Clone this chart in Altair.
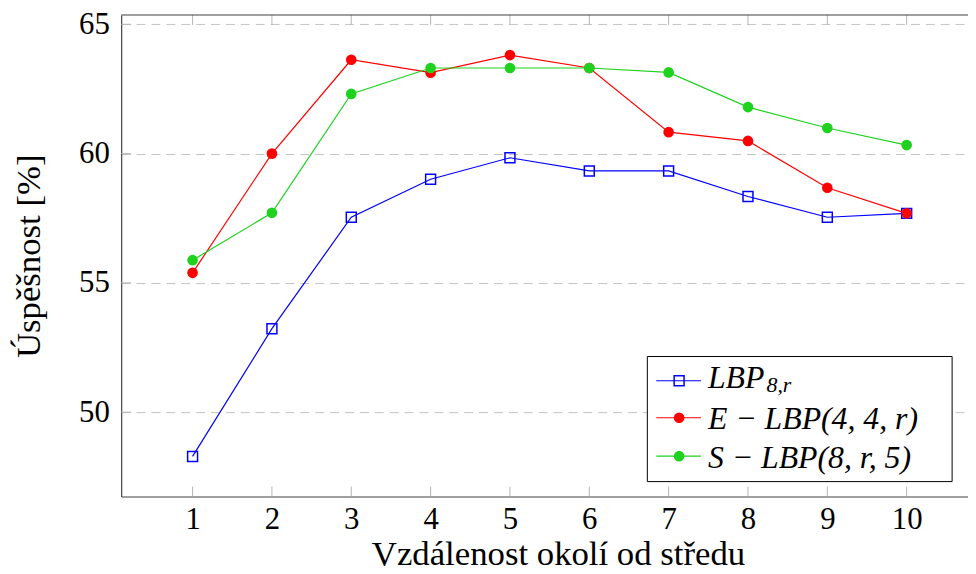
import altair as alt
import pandas as pd

# ---- data ----
x_vals = [1, 2, 3, 4, 5, 6, 7, 8, 9, 10]
lbp = [48.29, 53.23, 57.54, 59.01, 59.84, 59.33, 59.33, 58.34, 57.54, 57.69]
elbp = [55.39, 60.00, 63.63, 63.13, 63.81, 63.31, 60.83, 60.49, 58.68, 57.69]
slbp = [55.88, 57.71, 62.31, 63.31, 63.31, 63.31, 63.14, 61.80, 60.99, 60.33]
series_keys = ["LBP_8,r", "E-LBP(4,4,r)", "S-LBP(8,r,5)"]
legend_main = ["LBP", "E − LBP(4, 4, r)", "S − LBP(8, r, 5)"]
legend_sub = ["8,r", "", ""]
colors = ["#0000ff", "#ff0000", "#1ed21e"]
shapes = ["square", "circle", "circle"]
filled = [False, True, True]
x_ticks = [1, 2, 3, 4, 5, 6, 7, 8, 9, 10]
y_ticks = [50, 55, 60, 65]
x_domain = [0.1, 10.773]
y_domain = [46.74, 65.36]
x_title = "Vzdálenost okolí od středu"
y_title = "Úspěšnost [%]"

W, H = 853, 485
FONT = "Liberation Serif"
AXIS_COLOR = "#404040"
TICK_COLOR = "#b4b4b4"

rows = []
for key, vals in zip(series_keys, [lbp, elbp, slbp]):
    for xv, yv in zip(x_vals, vals):
        rows.append({"series": key, "x": xv, "y": yv})
df = pd.DataFrame(rows)

X = alt.X("x:Q", scale=alt.Scale(domain=x_domain, nice=False, zero=False),
          axis=alt.Axis(values=x_ticks, format="d", grid=False, ticks=False, tickSize=0,
                        labelPadding=32, labelBaseline="alphabetic",
                        title=x_title, titleX=440, titleY=68, titleAngle=0,
                        titleBaseline="alphabetic", titleAlign="center"))
Y = alt.Y("y:Q", scale=alt.Scale(domain=y_domain, nice=False, zero=False),
          axis=alt.Axis(values=y_ticks, grid=True, ticks=False, tickSize=0,
                        labelPadding=12, labelBaseline="middle",
                        title=y_title, titleX=-82, titleY=H / 2, titleAngle=270,
                        titleBaseline="alphabetic", titleAlign="center"))

base = alt.Chart(df)
layers = []

# inward ticks
xt = pd.DataFrame({"x": x_ticks})
yt = pd.DataFrame({"y": y_ticks})
layers.append(alt.Chart(xt).mark_rule(color=TICK_COLOR, strokeWidth=1).encode(
    x=X, y=alt.value(H), y2=alt.value(H - 10)))
layers.append(alt.Chart(xt).mark_rule(color=TICK_COLOR, strokeWidth=1).encode(
    x=X, y=alt.value(0), y2=alt.value(10)))
layers.append(alt.Chart(yt).mark_rule(color=TICK_COLOR, strokeWidth=1).encode(
    y=Y, x=alt.value(0), x2=alt.value(10)))

# top border line
one = pd.DataFrame({"a": [0]})
layers.append(alt.Chart(one).mark_rule(color=AXIS_COLOR, strokeWidth=1.2).encode(
    x=alt.value(0), x2=alt.value(W), y=alt.value(0)))

# series
for key, col, shp, fil in zip(series_keys, colors, shapes, filled):
    layers.append(base.transform_filter(alt.datum.series == key).mark_line(
        color=col, strokeWidth=1.2).encode(x=X, y=Y))
    layers.append(base.transform_filter(alt.datum.series == key).mark_point(
        shape=shp, filled=fil, color=col, size=(100 if shp == "square" else 115),
        strokeWidth=1.5, opacity=1).encode(x=X, y=Y))

# legend (layout positions in px inside the plot area)
lg_x0, lg_x1, lg_y0, lg_y1 = 530, 837, 344, 470
sym_cy = [368.4, 405.7, 444.4]
txt_base = [375.7, 417.4, 456.0]
layers.append(alt.Chart(one).mark_rect(fill="white", stroke="black", strokeWidth=1).encode(
    x=alt.value(lg_x0), x2=alt.value(lg_x1), y=alt.value(lg_y0), y2=alt.value(lg_y1)))
for i in range(len(series_keys)):
    layers.append(alt.Chart(one).mark_rule(color=colors[i], strokeWidth=1.2).encode(
        x=alt.value(539), x2=alt.value(584), y=alt.value(sym_cy[i])))
    layers.append(alt.Chart(one).mark_point(
        shape=shapes[i], filled=filled[i], color=colors[i],
        size=(100 if shapes[i] == "square" else 115), strokeWidth=1.5, opacity=1).encode(
        x=alt.value(562), y=alt.value(sym_cy[i])))
    layers.append(alt.Chart(one).mark_text(
        text=legend_main[i], font=FONT, fontSize=32, fontStyle="italic", color="black",
        align="left", baseline="alphabetic").encode(
        x=alt.value(591), y=alt.value(txt_base[i])))
    if legend_sub[i]:
        layers.append(alt.Chart(one).mark_text(
            text=legend_sub[i], font=FONT, fontSize=22, fontStyle="italic", color="black",
            align="left", baseline="alphabetic").encode(
            x=alt.value(650), y=alt.value(txt_base[i] + 4)))

chart = alt.layer(*layers).properties(
    width=W, height=H,
    padding={"left": 114, "top": 5, "right": 0, "bottom": 75},
    autosize=alt.AutoSizeParams(type="none"),
    background="white",
).configure_view(stroke=None).configure_axis(
    domainColor=AXIS_COLOR, domainWidth=1.2,
    labelFont=FONT, labelFontSize=31, labelColor="black",
    titleFont=FONT, titleFontSize=35, titleFontWeight="normal", titleColor="black",
    gridColor="#c4c4c4", gridDash=[9, 6], gridWidth=1,
)

chart.save("out.html", embed_options={"renderer": "svg", "actions": False})
